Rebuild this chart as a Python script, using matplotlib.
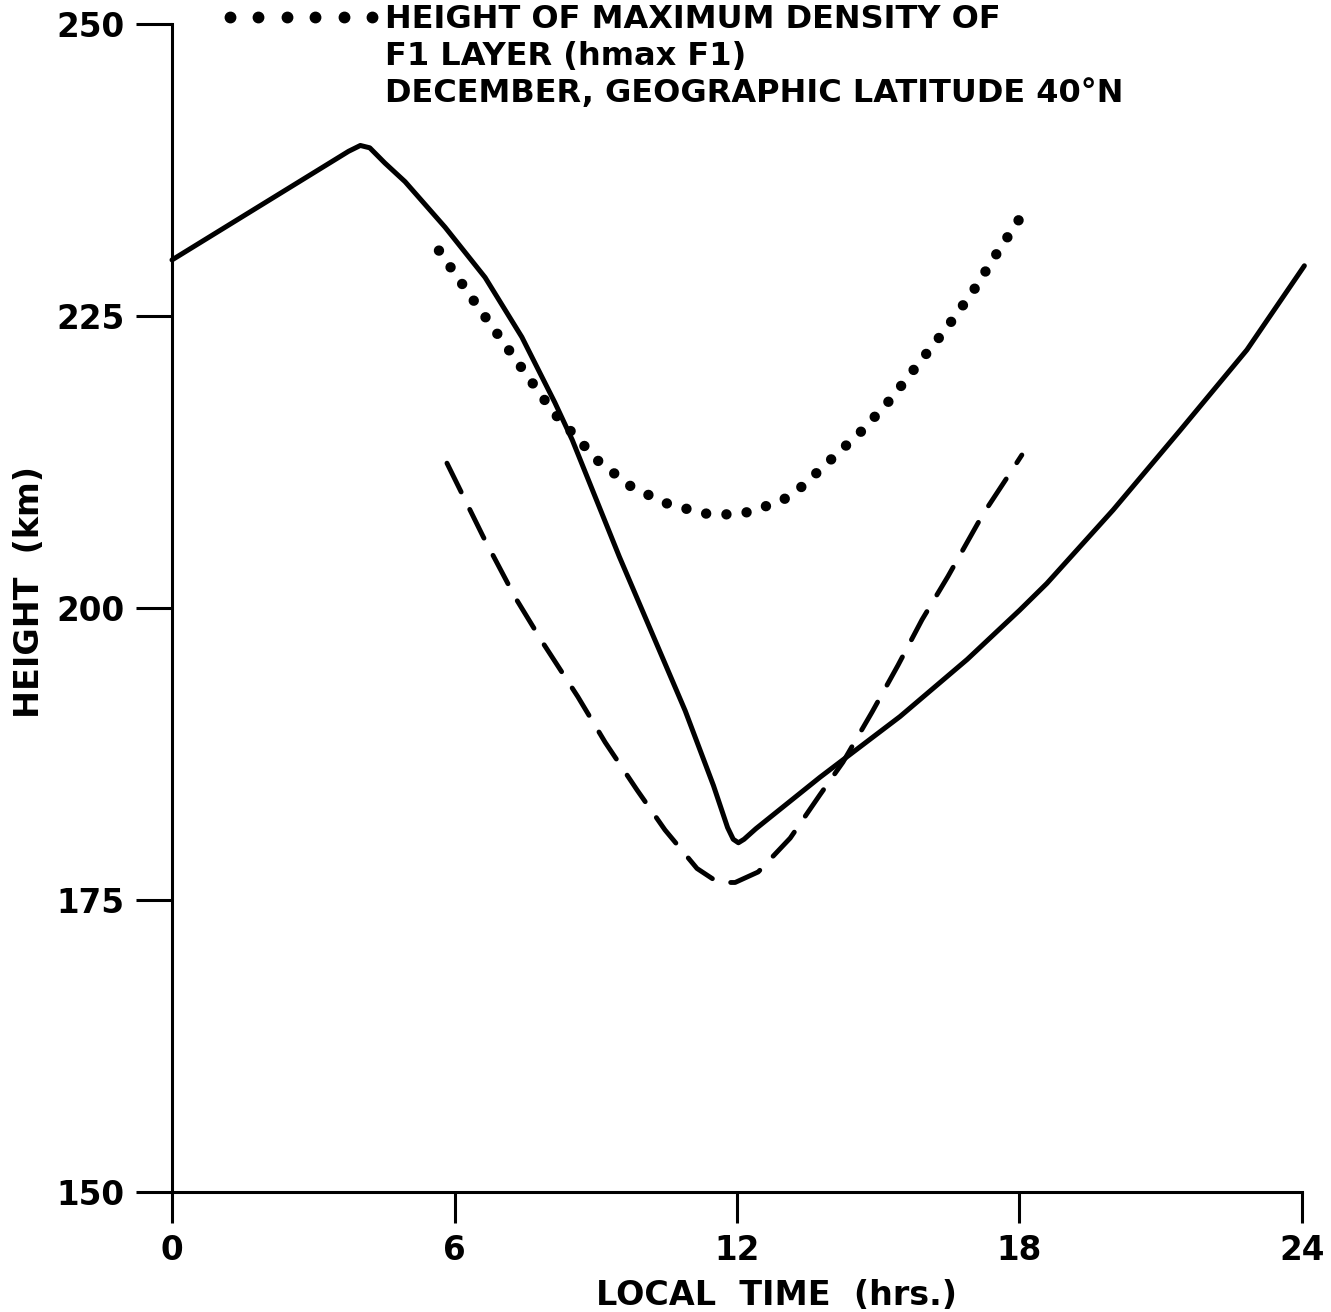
import numpy as np
import matplotlib
matplotlib.use("Agg")
import matplotlib.pyplot as plt

# ---- data ----
solid_t = [0.0, 3.75, 4.00, 4.20, 4.52, 4.95, 5.80, 6.65, 7.43, 8.13, 8.50,
           9.00, 9.50, 10.20, 10.90, 11.50, 11.80, 11.92, 12.03, 12.15, 12.40,
           13.76, 15.46, 16.89, 18.00, 18.58, 19.99, 21.41, 22.83, 24.05]
solid_h = [229.8, 239.1, 239.6, 239.4, 238.1, 236.5, 232.6, 228.3, 223.2,
           217.6, 214.4, 209.4, 204.4, 197.8, 191.2, 184.8, 181.2, 180.2,
           179.9, 180.2, 181.1, 185.5, 190.7, 195.6, 199.8, 202.1, 208.4,
           215.2, 222.1, 229.3]

dotted_t = [5.67, 6.48, 7.33, 8.11, 9.05, 9.75, 10.47, 11.28, 11.70, 12.13,
            12.53, 12.96, 13.38, 14.02, 14.66, 15.27, 15.87, 16.44, 17.01,
            17.54, 18.03]
dotted_h = [230.6, 225.9, 221.1, 216.7, 212.6, 210.4, 209.0, 208.1, 208.0,
            208.1, 208.6, 209.2, 210.4, 212.8, 215.2, 217.9, 221.0, 223.9,
            227.1, 230.5, 233.5]

dashed_t = [5.84, 6.61, 7.29, 7.88, 8.62, 9.20, 9.88, 10.47, 11.15, 11.60,
            11.96, 12.45, 13.13, 13.76, 14.25, 14.87, 15.42, 15.93, 16.48,
            17.22, 17.84, 18.05]
dashed_h = [212.4, 206.1, 200.9, 197.0, 192.4, 188.5, 184.4, 181.0, 177.7,
            176.5, 176.5, 177.4, 180.3, 184.0, 186.8, 191.1, 195.1, 199.0,
            202.7, 208.0, 211.8, 213.1]

x_ticks = [0, 6, 12, 18, 24]
x_tick_labels = ["0", "6", "12", "18", "24"]
y_ticks = [150, 175, 200, 225, 250]
y_tick_labels = ["150", "175", "200", "225", "250"]

legend_lines = ["HEIGHT OF MAXIMUM DENSITY OF",
                "F1 LAYER (hmax F1)",
                "DECEMBER, GEOGRAPHIC LATITUDE 40°N"]
x_label = "LOCAL  TIME  (hrs.)"
y_label = "HEIGHT  (km)"

# ---- figure ----
W, H = 1331, 1312
fig = plt.figure(figsize=(W / 100, H / 100), dpi=100)
fig.patch.set_facecolor("white")
plt.rcParams["font.family"] = ["DejaVu Sans"]

def fx(px):
    return px / W

def fy(py):
    return 1 - py / H

ax = fig.add_axes([fx(172), fy(1192), fx(1302) - fx(172), fy(24) - fy(1192)])
ax.set_xlim(0, 24)
ax.set_ylim(150, 250)

ax.plot(solid_t, solid_h, color="black", lw=3.6, solid_capstyle="round",
        solid_joinstyle="round", clip_on=False)
ax.plot(dashed_t, dashed_h, color="black", lw=3.5, linestyle=(0, (6.6, 4.0)),
        dash_capstyle="round", dash_joinstyle="round", clip_on=False)
ax.plot(dotted_t, dotted_h, color="black", lw=7.5, linestyle=(0, (0.001, 1.95)),
        dash_capstyle="round", clip_on=False)

for s in ["top", "right"]:
    ax.spines[s].set_visible(False)
for s in ["left", "bottom"]:
    ax.spines[s].set_linewidth(2.2)
    ax.spines[s].set_color("black")

ax.set_xticks(x_ticks)
ax.set_xticklabels(x_tick_labels, fontweight="bold")
ax.set_yticks(y_ticks)
ax.set_yticklabels(y_tick_labels, fontweight="bold")
ax.tick_params(axis="x", direction="out", length=22, width=2.2, pad=8,
               labelsize=23.5, colors="black")
ax.tick_params(axis="y", direction="out", length=26, width=2.2, pad=8,
               labelsize=23.5, colors="black")

fig.text(fx(777), fy(1305), x_label, ha="center", va="baseline", fontsize=24,
         fontweight="bold")
fig.text(fx(30), fy(592), y_label, ha="center", va="center", rotation=90,
         fontsize=24, fontweight="bold")

# legend at the top
dot_x = np.linspace(fx(230), fx(372), 6)
fig.lines.append(matplotlib.lines.Line2D(dot_x, [fy(17)] * 6,
                 transform=fig.transFigure, linestyle="none", marker="o",
                 markersize=7.5, color="black"))
for line, py in zip(legend_lines, [28, 65, 102]):
    fig.text(fx(385), fy(py), line, ha="left", va="baseline", fontsize=23,
             fontweight="bold")

fig.savefig("out.png", dpi=100, facecolor="white")
